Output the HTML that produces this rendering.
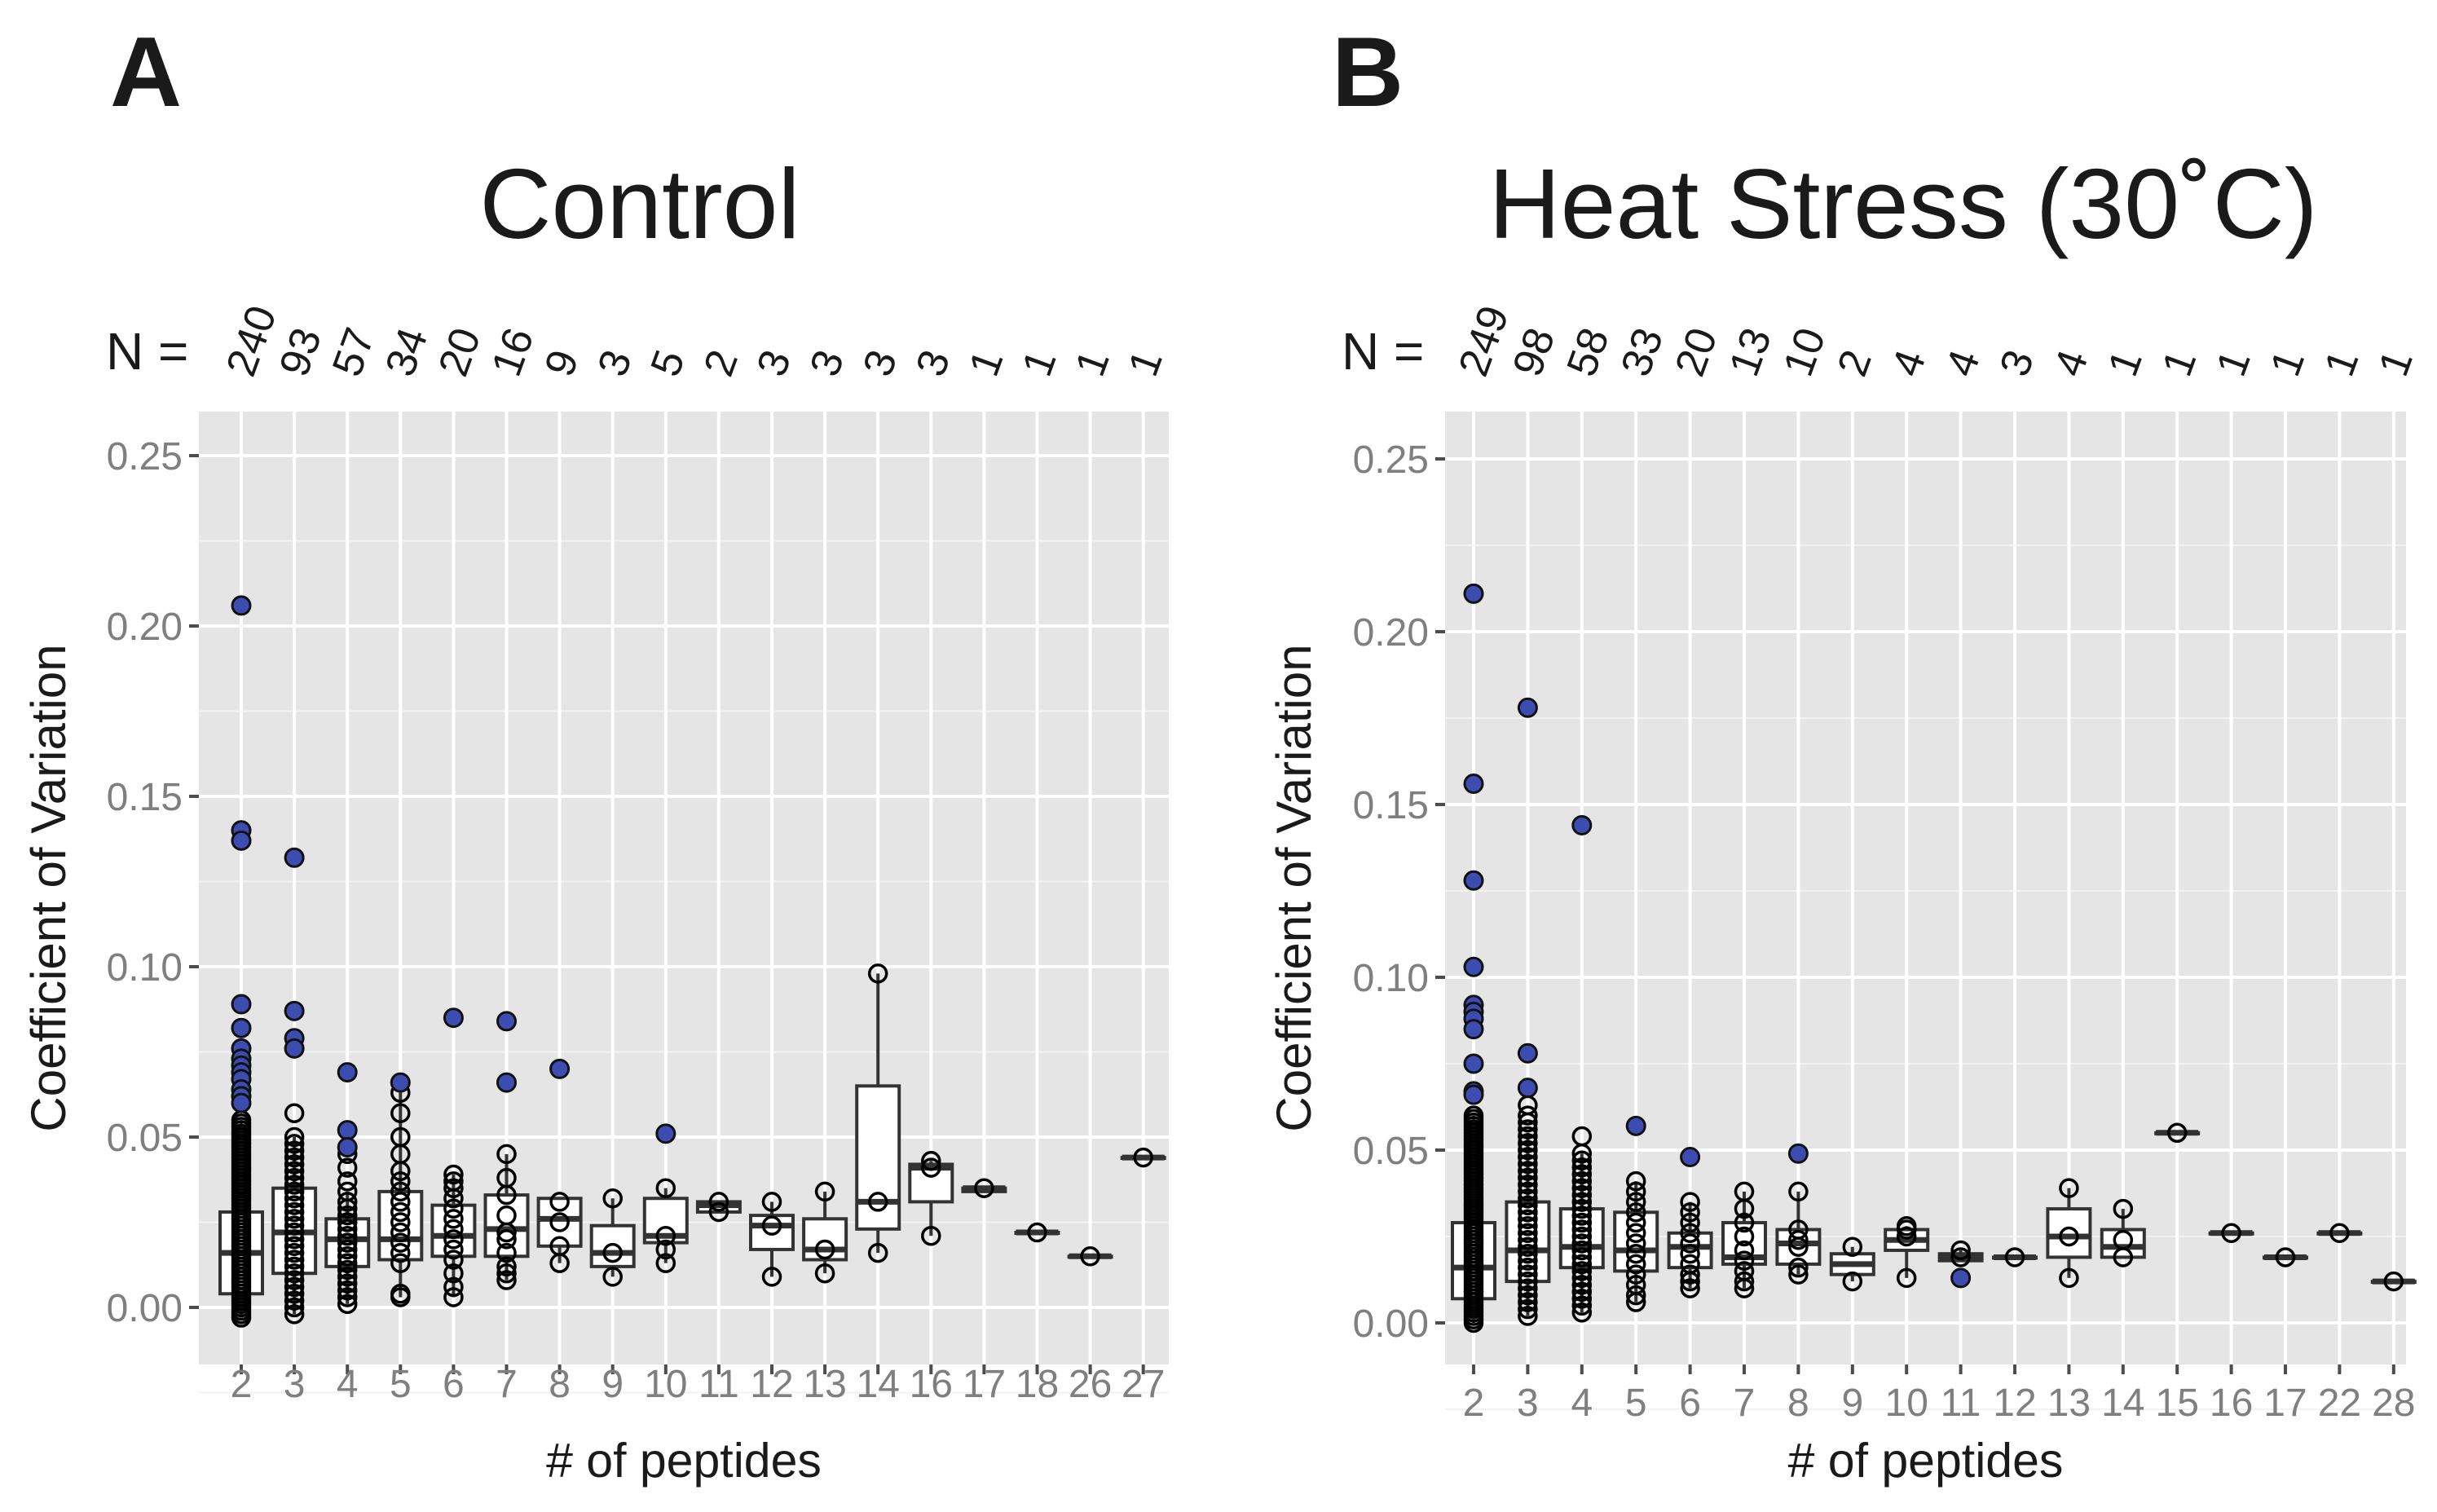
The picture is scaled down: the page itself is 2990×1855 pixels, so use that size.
<!DOCTYPE html>
<html><head><meta charset="utf-8"><style>
html,body{margin:0;padding:0;background:#fff;}
svg{display:block;font-family:"Liberation Sans",Arial,sans-serif;}
</style></head><body>
<svg id="fig" width="2990" height="1855" viewBox="0 0 2990 1855" xmlns="http://www.w3.org/2000/svg">
<rect width="2990" height="1855" fill="#fff"/>
<text x="135" y="130" font-size="122" font-weight="bold" fill="#1a1a1a">A</text>
<text x="1634" y="130" font-size="122" font-weight="bold" fill="#1a1a1a">B</text>
<text x="785" y="292" font-size="122" text-anchor="middle" fill="#1a1a1a">Control</text>
<text x="2335" y="292" font-size="122" text-anchor="middle" fill="#1a1a1a">Heat Stress (30˚C)</text>
<g id="pa"></g>
<g id="pb"></g>
</svg>
<script>
// ---------- Panel A data (Control) ----------
const catsA = ["2","3","4","5","6","7","8","9","10","11","12","13","14","16","17","18","26","27"];
const nA = ["240","93","57","34","20","16","9","3","5","2","3","3","3","3","1","1","1","1"];
const q1A = [0.004,0.010,0.012,0.014,0.015,0.015,0.018,0.012,0.019,0.028,0.017,0.014,0.023,0.031,0.034,0.022,0.015,0.044];
const medA = [0.016,0.022,0.020,0.020,0.021,0.023,0.026,0.016,0.021,0.030,0.024,0.017,0.031,0.041,0.035,0.022,0.015,0.044];
const q3A = [0.028,0.035,0.026,0.034,0.030,0.033,0.032,0.024,0.032,0.031,0.027,0.026,0.065,0.042,0.035,0.022,0.015,0.044];
const loA = [-0.003,-0.002,0.001,0.003,0.003,0.008,0.013,0.009,0.013,0.028,0.009,0.010,0.016,0.021,0.035,0.022,0.015,0.044];
const hiA = [0.055,0.050,0.034,0.063,0.039,0.045,0.032,0.032,0.035,0.031,0.031,0.034,0.098,0.043,0.035,0.022,0.015,0.044];
const ptsA = [
 [-0.003,-0.002,-0.001,0,0.001,0.002,0.003,0.004,0.005,0.006,0.007,0.008,0.009,0.010,0.011,0.012,0.013,0.014,0.015,0.016,0.017,0.018,0.019,0.020,0.021,0.022,0.023,0.024,0.025,0.026,0.027,0.028,0.029,0.030,0.031,0.032,0.033,0.034,0.035,0.036,0.037,0.038,0.039,0.040,0.041,0.042,0.043,0.044,0.045,0.046,0.047,0.048,0.049,0.050,0.051,0.052,0.053,0.054,0.055],
 [-0.002,0,0.002,0.004,0.006,0.008,0.010,0.012,0.014,0.016,0.018,0.020,0.022,0.024,0.026,0.028,0.030,0.032,0.034,0.036,0.038,0.040,0.042,0.044,0.046,0.048,0.050,0.057],
 [0.001,0.003,0.005,0.007,0.009,0.011,0.013,0.015,0.017,0.019,0.021,0.023,0.025,0.027,0.029,0.031,0.034,0.037,0.041,0.045],
 [0.003,0.004,0.013,0.016,0.019,0.022,0.025,0.028,0.031,0.034,0.037,0.040,0.045,0.050,0.057,0.063],
 [0.003,0.006,0.010,0.014,0.017,0.020,0.023,0.026,0.029,0.032,0.035,0.037,0.039],
 [0.008,0.010,0.012,0.016,0.020,0.022,0.027,0.033,0.038,0.045],
 [0.013,0.018,0.025,0.031],
 [0.009,0.016,0.032],
 [0.013,0.017,0.021,0.035],
 [0.028,0.031],
 [0.009,0.024,0.031],
 [0.010,0.017,0.034],
 [0.016,0.031,0.098],
 [0.021,0.041,0.043],
 [0.035],[0.022],[0.015],[0.044]
];
const blueA = [
 [0.206,0.140,0.137,0.089,0.082,0.076,0.073,0.071,0.069,0.067,0.064,0.062,0.060],
 [0.132,0.087,0.079,0.076],
 [0.069,0.052,0.047],
 [0.066],[0.085],[0.084,0.066],[0.070],[],[0.051],[],[],[],[],[],[],[],[],[]
];
const ticksY = [0, 0.05, 0.10, 0.15, 0.20, 0.25];
const tickLabelsY = ["0.00","0.05","0.10","0.15","0.20","0.25"];

// ---------- Panel B data (Heat Stress) ----------
const catsB = ["2","3","4","5","6","7","8","9","10","11","12","13","14","15","16","17","22","28"];
const nB = ["249","98","58","33","20","13","10","2","4","4","3","4","1","1","1","1","1","1"];
const q1B = [0.007,0.012,0.016,0.015,0.016,0.017,0.017,0.014,0.021,0.018,0.019,0.019,0.019,0.055,0.026,0.019,0.026,0.012];
const medB = [0.016,0.021,0.022,0.021,0.022,0.019,0.023,0.017,0.024,0.019,0.019,0.025,0.022,0.055,0.026,0.019,0.026,0.012];
const q3B = [0.029,0.035,0.033,0.032,0.026,0.029,0.027,0.020,0.027,0.020,0.019,0.033,0.027,0.055,0.026,0.019,0.026,0.012];
const loB = [0,0.002,0.003,0.006,0.010,0.010,0.014,0.012,0.013,0.018,0.019,0.013,0.019,0.055,0.026,0.019,0.026,0.012];
const hiB = [0.060,0.055,0.049,0.041,0.035,0.038,0.038,0.022,0.028,0.021,0.019,0.039,0.033,0.055,0.026,0.019,0.026,0.012];
const ptsB = [
 [0,0.001,0.002,0.003,0.004,0.005,0.006,0.007,0.008,0.009,0.010,0.011,0.012,0.013,0.014,0.015,0.016,0.017,0.018,0.019,0.020,0.021,0.022,0.023,0.024,0.025,0.026,0.027,0.028,0.029,0.030,0.031,0.032,0.033,0.034,0.035,0.036,0.037,0.038,0.039,0.040,0.041,0.042,0.043,0.044,0.045,0.046,0.047,0.048,0.049,0.050,0.051,0.052,0.053,0.054,0.055,0.056,0.057,0.058,0.059,0.060],
 [0.002,0.004,0.006,0.008,0.010,0.012,0.014,0.016,0.018,0.020,0.022,0.024,0.026,0.028,0.030,0.032,0.034,0.036,0.038,0.040,0.042,0.044,0.046,0.048,0.050,0.052,0.054,0.056,0.058,0.060,0.063],
 [0.003,0.005,0.007,0.009,0.011,0.013,0.015,0.017,0.019,0.021,0.023,0.025,0.027,0.029,0.031,0.033,0.035,0.037,0.039,0.041,0.043,0.045,0.047,0.049,0.054],
 [0.006,0.008,0.011,0.014,0.017,0.020,0.023,0.026,0.029,0.032,0.035,0.038,0.041],
 [0.010,0.012,0.014,0.017,0.020,0.023,0.026,0.029,0.032,0.035],
 [0.010,0.012,0.015,0.018,0.021,0.025,0.029,0.033,0.038],
 [0.014,0.016,0.022,0.024,0.027,0.038],
 [0.012,0.022],
 [0.013,0.025,0.027,0.028],
 [0.021,0.019],
 [0.019],
 [0.013,0.025,0.039],
 [0.019,0.024,0.033],
 [0.055],[0.026],[0.019],[0.026],[0.012]
];
const blueB = [
 [0.211,0.156,0.128,0.103,0.092,0.090,0.088,0.085,0.075,0.067,0.066],
 [0.178,0.078,0.068],
 [0.144],[0.057],[0.048],[],[0.049],[],[],[0.013],[],[],[],[],[],[],[],[]
];

const NS = "http://www.w3.org/2000/svg";
function mk(parent, tag, attrs){
  const e = document.createElementNS(NS, tag);
  for (const k in attrs) e.setAttribute(k, attrs[k]);
  parent.appendChild(e);
  return e;
}

function drawPanel(g, L, cats, ns, q1, med, q3, lo, hi, pts, blue){
  const y = v => L.y0 - v / 0.05 * L.per05;
  const x = i => L.x0 + i * L.step;
  const bg = mk(g, "rect", {x:L.left, y:L.top, width:L.right-L.left, height:L.bottom-L.top, fill:"#e5e5e5"});
  
  
  for (let i = 0; i < ticksY.length; i++){
    const yy = y(ticksY[i] + 0.025);
    if (yy > L.top){
      const m = mk(g, "line", {x1:L.left, x2:L.right, y1:yy, y2:yy, stroke:"#f2f2f2", "stroke-width":2});
      
      
    }
  }
  const mn = mk(g, "line", {x1:L.left, x2:L.right, y1:y(-0.025), y2:y(-0.025), stroke:"#f2f2f2", "stroke-width":2});
  
  
  for (let i = 0; i < ticksY.length; i++){
    const yy = y(ticksY[i]);
    const gl = mk(g, "line", {x1:L.left, x2:L.right, y1:yy, y2:yy, stroke:"#fff", "stroke-width":4});
    
    
    const tk = mk(g, "line", {x1:L.left-12, x2:L.left, y1:yy, y2:yy, stroke:"#4d4d4d", "stroke-width":4});
    
    
    const tl = mk(g, "text", {x:L.left-20, y:yy+17, "font-size":48, "text-anchor":"end", fill:"#7f7f7f"});
    tl.textContent = tickLabelsY[i];
    
    
  }
  for (let i = 0; i < cats.length; i++){
    const xx = x(i);
    const vl = mk(g, "line", {x1:xx, x2:xx, y1:L.top, y2:L.bottom, stroke:"#fff", "stroke-width":4});
    
    
    const tk = mk(g, "line", {x1:xx, x2:xx, y1:L.bottom, y2:L.bottom+12, stroke:"#4d4d4d", "stroke-width":4});
    
    
    const tl = mk(g, "text", {x:xx, y:L.xlabY, "font-size":48, "text-anchor":"middle", fill:"#7f7f7f"});
    tl.textContent = cats[i];
    
    
    const nt = mk(g, "text", {x:0, y:0, "font-size":52, fill:"#1a1a1a", transform:`translate(${xx+14},${L.nY}) rotate(-70)`});
    nt.textContent = ns[i];
    
    
  }
  const nl = mk(g, "text", {x:L.nLabelX, y:L.nY-12, "font-size":64, fill:"#1a1a1a"});
  nl.textContent = "N =";
  
  
  const bw = 52;
  for (let i = 0; i < cats.length; i++){
    const xx = x(i);
    const bx = mk(g, "g", {});
    
    
    mk(bx, "line", {x1:xx, x2:xx, y1:y(hi[i]), y2:y(q3[i]), stroke:"#333", "stroke-width":4});
    mk(bx, "line", {x1:xx, x2:xx, y1:y(q1[i]), y2:y(lo[i]), stroke:"#333", "stroke-width":4});
    mk(bx, "rect", {x:xx-bw/2, y:y(q3[i]), width:bw, height:Math.max(y(q1[i])-y(q3[i]),1), fill:"#fff", stroke:"#333", "stroke-width":4});
    mk(bx, "line", {x1:xx-bw/2, x2:xx+bw/2, y1:y(med[i]), y2:y(med[i]), stroke:"#333", "stroke-width":7});
    for (const v of pts[i]){
      const c = mk(g, "circle", {cx:xx, cy:y(v), r:10.5, fill:"none", stroke:"#000", "stroke-width":3.5});
      
      
    }
    for (const v of blue[i]){
      const c = mk(g, "circle", {cx:xx, cy:y(v), r:11, fill:"#3d4cb0", stroke:"#111", "stroke-width":3});
      
      
    }
  }
  const yt = mk(g, "text", {x:0, y:0, "font-size":60, "text-anchor":"middle", fill:"#1a1a1a", transform:`translate(${L.ytX},${(L.top+L.bottom)/2}) rotate(-90)`});
  yt.textContent = "Coefficient of Variation";
  
  
  const xt = mk(g, "text", {x:(L.left+L.right)/2, y:L.xtY, "font-size":59, "text-anchor":"middle", fill:"#1a1a1a"});
  xt.textContent = "# of peptides";
  
  
}

drawPanel(document.getElementById("pa"),
  {left:244, right:1434, top:505, bottom:1674, y0:1604, per05:209, x0:296, step:65.1, xlabY:1714, xtY:1812, ytX:80, nY:465, nLabelX:130},
  catsA, nA, q1A, medA, q3A, loA, hiA, ptsA, blueA);
drawPanel(document.getElementById("pb"),
  {left:1773, right:2952, top:505, bottom:1674, y0:1623, per05:212, x0:1808, step:66.4, xlabY:1737, xtY:1812, ytX:1608, nY:465, nLabelX:1646},
  catsB, nB, q1B, medB, q3B, loB, hiB, ptsB, blueB);
</script>
</body></html>
